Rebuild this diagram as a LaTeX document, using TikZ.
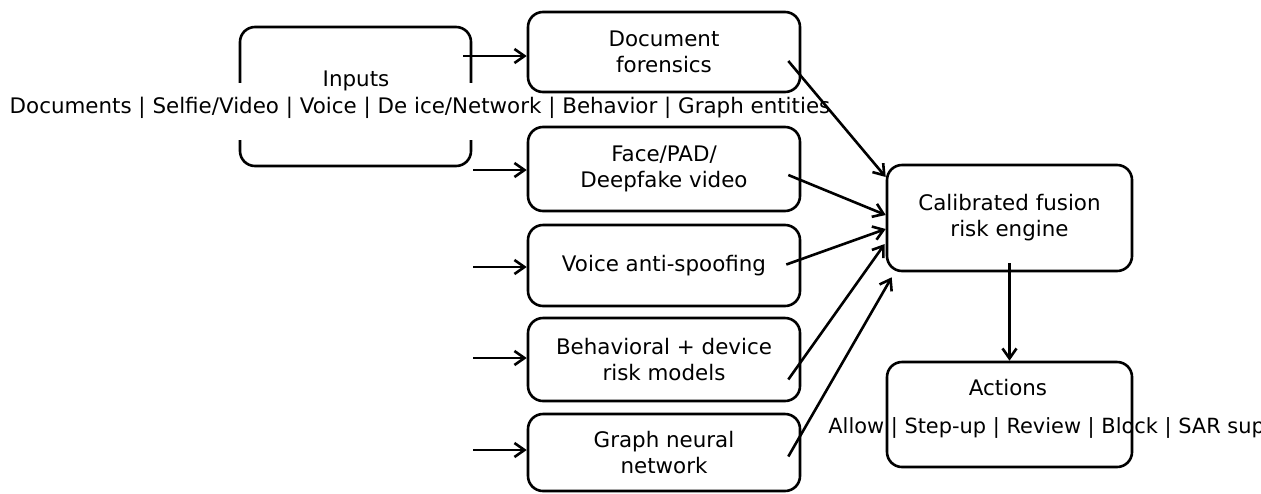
\documentclass[tikz,border=0pt]{standalone}
\usepackage{fontspec}
\setmainfont{DejaVu Sans}
\usetikzlibrary{arrows.meta,calc}
\begin{document}
\begin{tikzpicture}[x=0.5pt,y=-0.5pt,
  every node/.style={font=\fontsize{10.7}{13}\selectfont, inner sep=0pt},
  box/.style={draw, line width=1.3pt, rounded corners=7.5pt, align=center},
  side/.style={box, minimum width=136pt},
  conn/.style={line width=1.3pt, -{Straight Barb[length=5pt,width=7pt,line width=1.3pt]}}]
\useasboundingbox (0,0) rectangle (1261,493);
% Inputs box with side gaps
\node[box, minimum width=115.5pt, minimum height=69.5pt] (inputs) at (355.5,96.5) {};
\fill[white] (234,83) rectangle (246,140);
\fill[white] (465,83) rectangle (477,140);
\node (inlabel) at (356,81) {Inputs};
\node (inlist) at (420,108) {Documents | Selfie/Video | Voice | De ice/Network | Behavior | Graph entities};
% detector boxes
\node[side, minimum height=40pt] (doc) at (664,52) {Document\\forensics};
\node[side, minimum height=42pt] (face) at (664,169) {Face/PAD/\\Deepfake video};
\node[side, minimum height=40.5pt] (voice) at (664,265.5) {Voice anti-spoofing};
\node[side, minimum height=41.5pt] (behav) at (664,359.5) {Behavioral + device\\risk models};
\node[side, minimum height=38.5pt] (graph) at (664,452.5) {Graph neural\\network};
% fusion and actions
\node[box, minimum width=122.5pt, minimum height=53pt] (cal) at (1009.5,218) {Calibrated fusion\\risk engine};
\node[box, minimum width=122.5pt, minimum height=52.5pt] (actions) at (1009.5,414.5) {};
\node (actlabel) at (1008,388) {Actions};
\node[anchor=west, font=\fontsize{10.45}{13}\selectfont] (actlist) at (828,428) {Allow | Step-up | Review | Block | SAR sup};
% free input arrow starts
\coordinate (s1) at (463,56);
\coordinate (s2) at (473,170);
\coordinate (s3) at (473,267);
\coordinate (s4) at (473,358);
\coordinate (s5) at (473,450);
\draw[conn] (s1) -- (s1 -| doc.west);
\draw[conn] (s2) -- (s2 -| face.west);
\draw[conn] (s3) -- (s3 -| voice.west);
\draw[conn] (s4) -- (s4 -| behav.west);
\draw[conn] (s5) -- (s5 -| graph.west);
% fan-in
\draw[conn] ($(doc.east)+(-13,9)$) -- ($(cal.west)+(0,-41)$);
\draw[conn] ($(face.east)+(-13,6)$) -- ($(cal.west)+(0,-3)$);
\draw[conn] ($(voice.east)+(-15,-1)$) -- ($(cal.west)+(0,11)$);
\draw[conn] ($(behav.east)+(-13,20)$) -- ($(cal.west)+(-1,26)$);
\draw[conn] ($(graph.east)+(-13,4)$) -- ($(cal.south west)+(6,5)$);
\draw[conn] ($(cal.south)+(0,-9)$) -- (actions.north);
\end{tikzpicture}
\end{document}
